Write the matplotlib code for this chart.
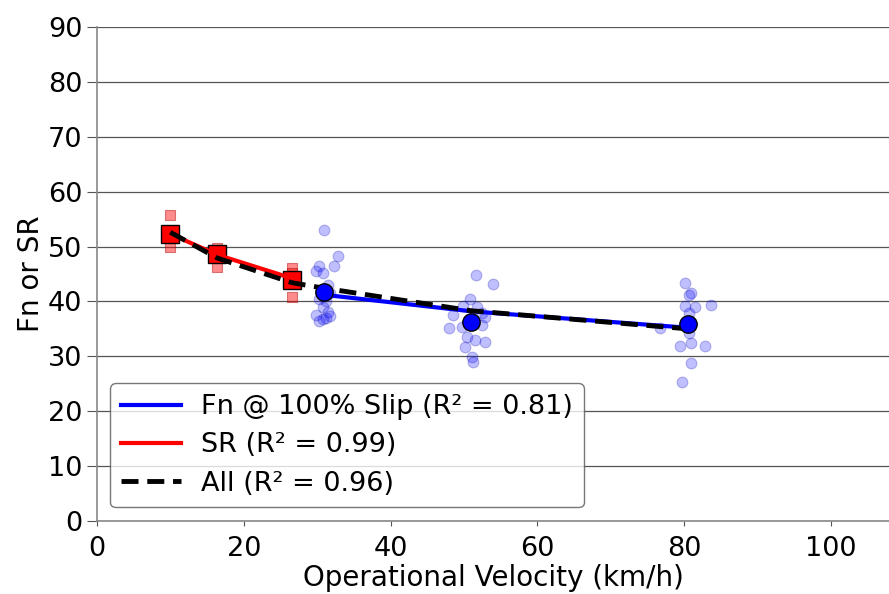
import matplotlib
matplotlib.use('Agg')
import matplotlib.pyplot as plt
import numpy as np

# SR measurements (low speeds)
sr_speed = [10, 16.4, 26.6]
sr_raw = [[55.8, 51.5, 50.0], [49.7, 46.3, 48.5], [46.1, 45.2, 40.8, 44.0]]
sr_mean = [52.2, 48.6, 43.9]
sr_fit = [52.3, 48.5, 44.2]

# Fn @ 100% slip measurements (jittered around group speeds)
fn_x = [31.0, 32.8, 32.3, 30.2, 29.8, 30.8, 31.5, 30.5, 31.8, 30.2, 31.2, 30.8, 31.5, 29.8, 30.2, 31.2, 31.8, 30.8,
        51.6, 54.0, 50.8, 49.9, 48.5, 47.9, 49.7, 52.5, 52.9, 50.4, 51.5, 52.9, 50.1, 51.1, 51.2, 51.8, 52.4,
        80.1, 80.9, 80.7, 83.6, 80.1, 81.5, 80.6, 79.4, 80.9, 82.8, 80.9, 79.7, 80.6, 76.7]
fn_y = [53.0, 48.3, 46.5, 46.5, 45.5, 45.2, 43.0, 42.0, 41.5, 40.5, 40.0, 39.0, 38.0, 37.5, 36.5, 37.0, 37.3, 36.8,
        44.8, 43.2, 40.4, 39.2, 37.5, 35.2, 35.4, 35.7, 37.2, 33.5, 33.0, 32.6, 31.7, 29.9, 29.0, 39.0, 37.9,
        43.3, 41.6, 41.2, 39.4, 39.2, 39.0, 37.9, 31.9, 32.4, 31.9, 28.8, 25.3, 34.2, 35.2]
fn_speed = [31, 51, 80.5]
fn_mean = [41.8, 36.3, 35.8]
fn_fit = [41.2, 38.2, 35.2]

# combined fit
all_speed = [10, 16.4, 26.6, 31, 51, 80.5]
all_fit = [52.6, 47.9, 43.4, 42.4, 38.3, 35.0]

plt.rcParams['font.family'] = 'DejaVu Sans'

fig = plt.figure(figsize=(8.89, 5.94), dpi=100)
ax = fig.add_axes([0.109, 0.123, 0.891, 0.8315])

ax.scatter(fn_x, fn_y, s=60, color='blue', alpha=0.25, edgecolors='#0000aa', linewidths=0.8, zorder=2)
for x, ys in zip(sr_speed, sr_raw):
    ax.scatter([x] * len(ys), ys, s=60, marker='s', color='red', alpha=0.45,
               edgecolors='#aa0000', linewidths=0.8, zorder=2)

ax.plot(sr_speed, sr_mean, 's', ms=12.5, color='red', mec='black', mew=1, zorder=3)
ax.plot(sr_speed, sr_fit, color='red', lw=3, zorder=4, label='SR (R\u00b2 = 0.99)')
ax.plot(fn_speed, fn_fit, color='blue', lw=3, zorder=4, label='Fn @ 100% Slip (R\u00b2 = 0.81)')
ax.plot(all_speed, all_fit, color='black', lw=3.5, ls=(0, (3.5, 1.8)), zorder=5, label='All (R\u00b2 = 0.96)')
ax.plot(fn_speed, fn_mean, 'o', ms=12.5, color='blue', mec='black', mew=1, zorder=6)

ax.set_xlim(0, 107.9)
ax.set_ylim(0, 90)
ax.set_xticks([0, 20, 40, 60, 80, 100])
ax.set_yticks(range(0, 91, 10))
ax.grid(axis='y', color='#555555', lw=0.9)
ax.set_axisbelow(True)
for s in ['top', 'right']:
    ax.spines[s].set_visible(False)
for s in ['left', 'bottom']:
    ax.spines[s].set_color('#888888')
    ax.spines[s].set_linewidth(1.2)
ax.tick_params(axis='y', labelsize=19.5, length=7, color='#555555')
ax.tick_params(axis='x', labelsize=19.5, length=3.5, color='#555555', pad=7)
ax.set_xlabel('Operational Velocity (km/h)', fontsize=20, labelpad=2)
ax.set_ylabel('Fn or SR', fontsize=20, labelpad=2)

h, l = ax.get_legend_handles_labels()
order = [1, 0, 2]
ax.legend([h[i] for i in order], [l[i] for i in order], loc='lower left', fontsize=19.5,
          handlelength=2.2, handletextpad=0.75, labelspacing=0.45, edgecolor='#555555')

fig.savefig('out.png', dpi=100)
